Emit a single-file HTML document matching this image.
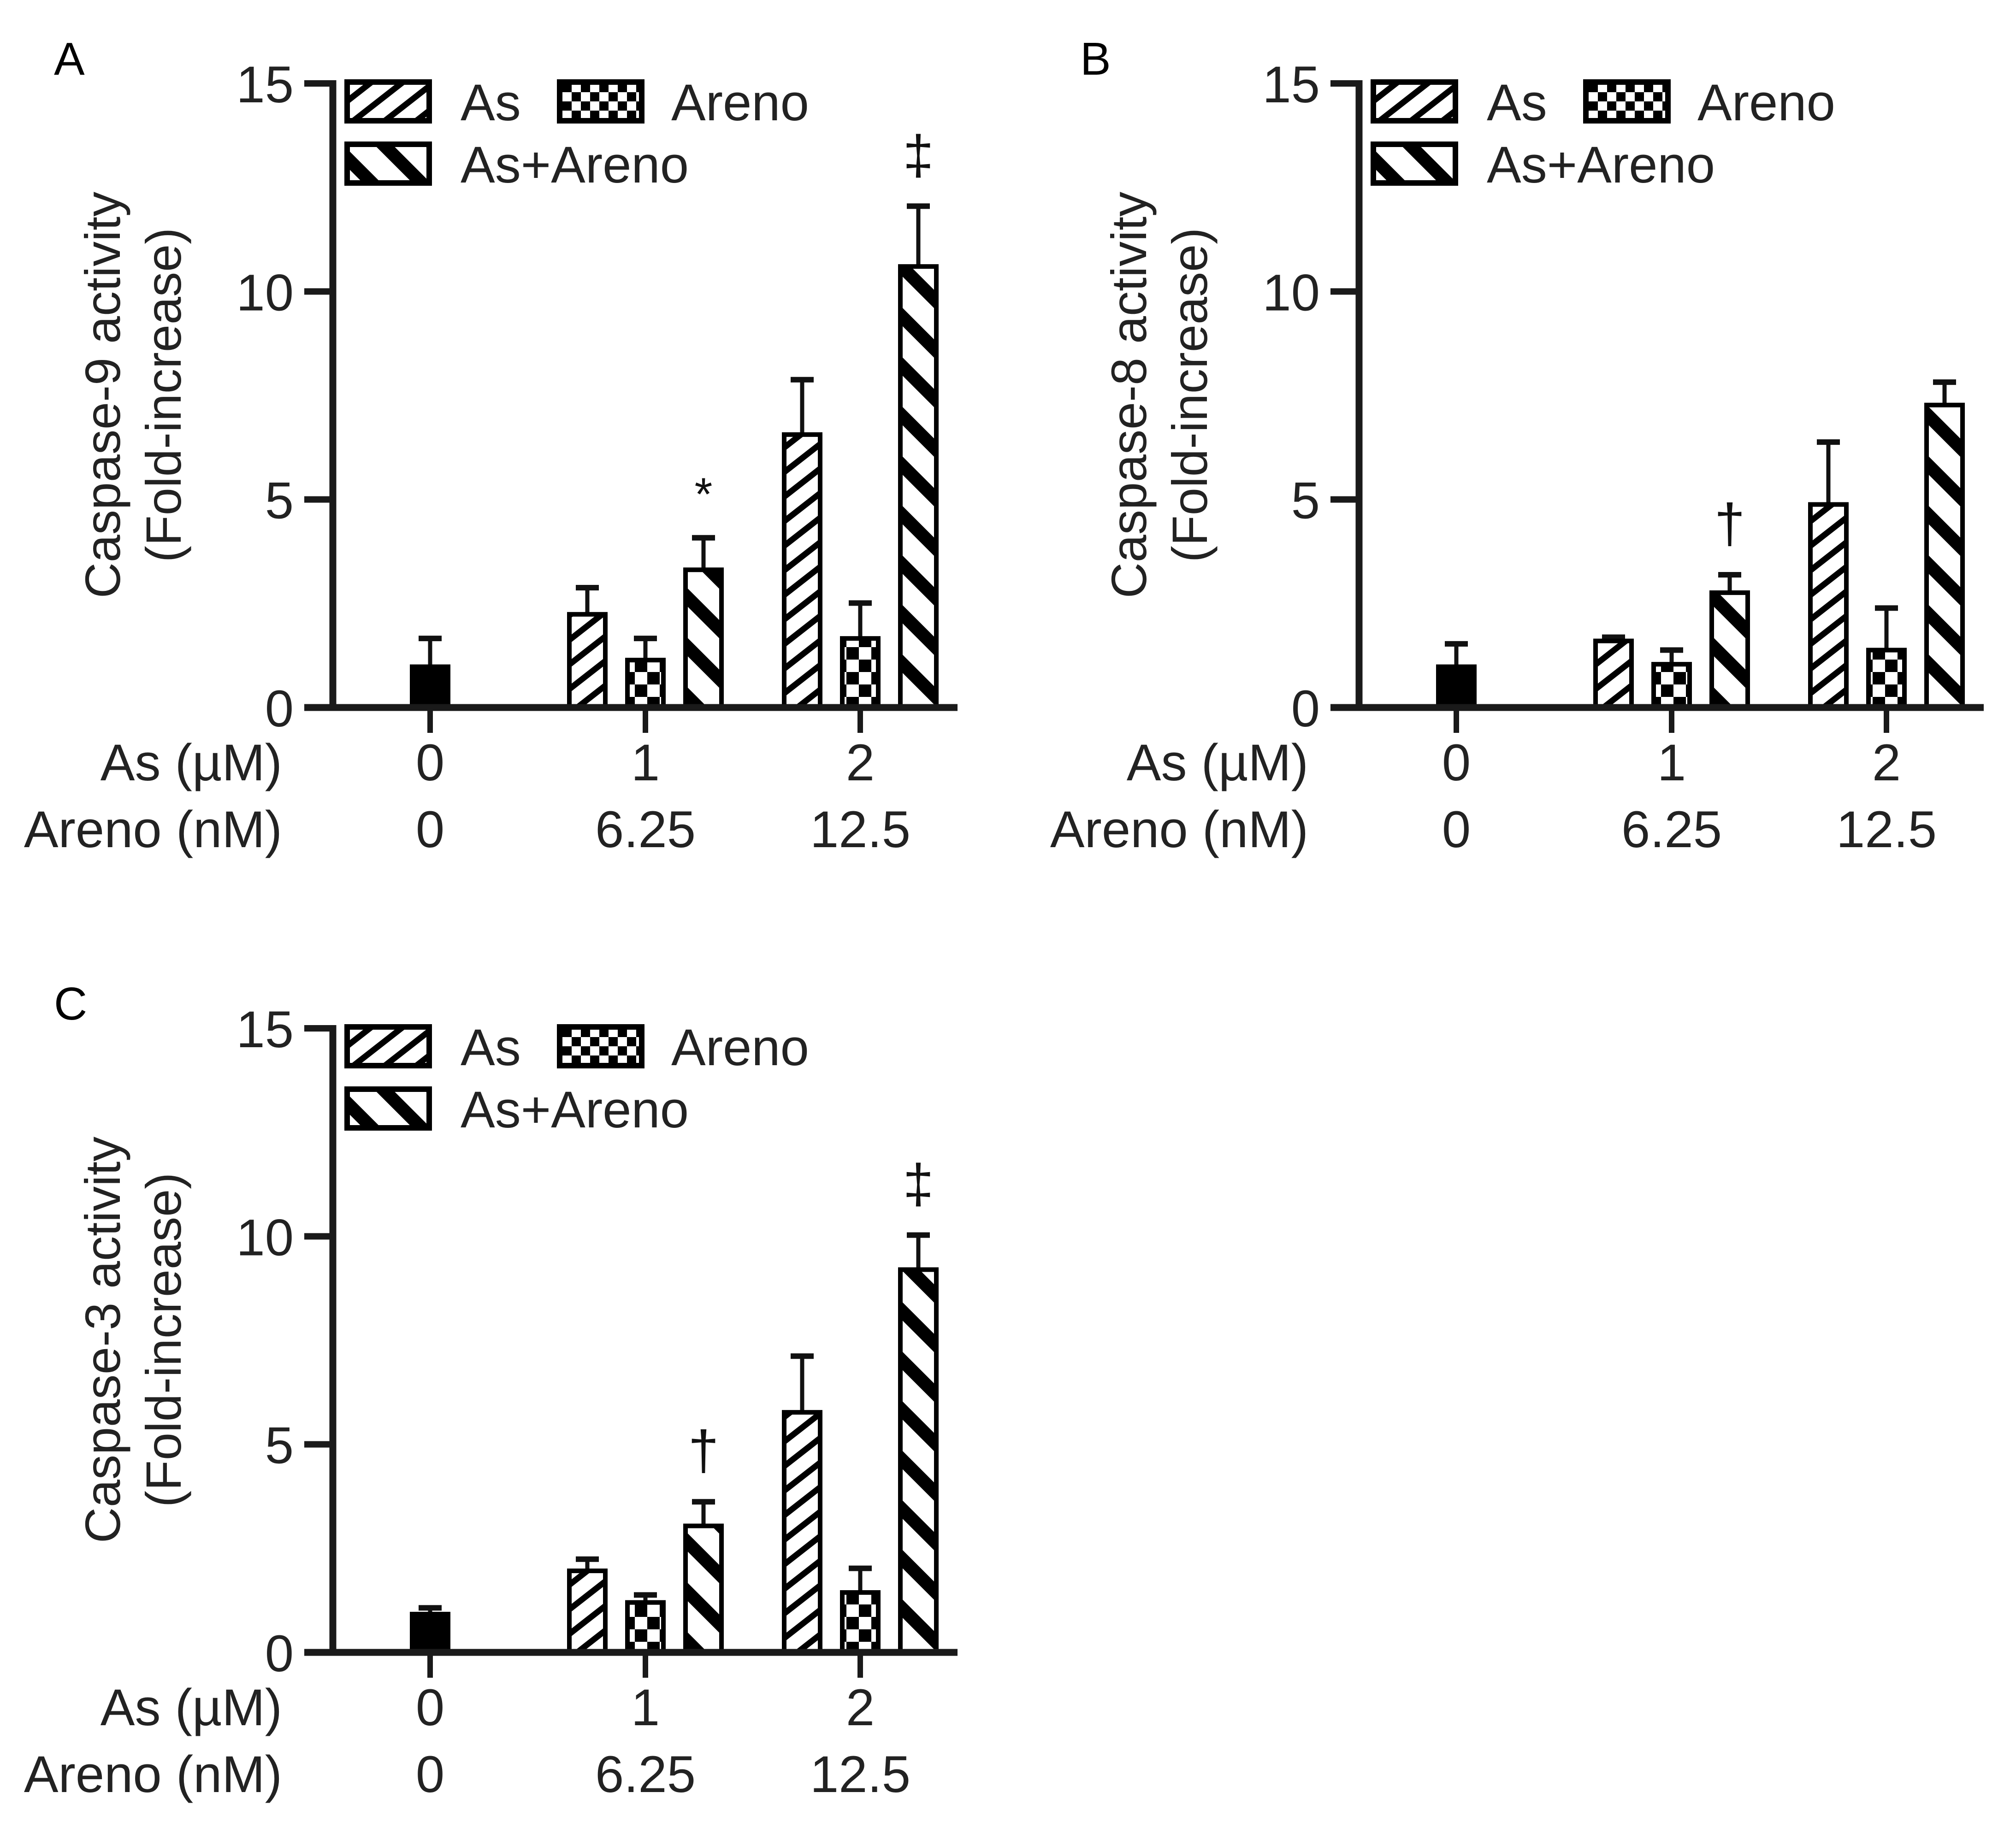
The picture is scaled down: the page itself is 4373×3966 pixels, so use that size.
<!DOCTYPE html>
<html><head><meta charset="utf-8">
<style>
html,body{margin:0;padding:0;background:#fff;}
svg{display:block;font-family:"Liberation Sans",Arial,sans-serif;}
</style></head>
<body>
<svg id="fig" width="4373" height="3966" viewBox="0 0 4373 3966" xmlns="http://www.w3.org/2000/svg">
<defs>
  <pattern id="pAs" patternUnits="userSpaceOnUse" width="42" height="42" patternTransform="rotate(-38)">
    <rect width="42" height="42" fill="#fff"/><rect y="0" width="42" height="13" fill="#000"/>
  </pattern>
  <pattern id="pCombo" patternUnits="userSpaceOnUse" width="76" height="76" patternTransform="rotate(45)">
    <rect width="76" height="76" fill="#fff"/><rect y="0" width="76" height="28" fill="#000"/>
  </pattern>
  <pattern id="pAreno" patternUnits="userSpaceOnUse" width="54" height="54">
    <rect width="54" height="54" fill="#fff"/><rect x="0" y="0" width="27" height="27" fill="#000"/><rect x="27" y="27" width="27" height="27" fill="#000"/>
  </pattern>
  <pattern id="pArenoLeg" patternUnits="userSpaceOnUse" width="40" height="40">
    <rect width="40" height="40" fill="#fff"/><rect x="0" y="0" width="20" height="20" fill="#000"/><rect x="20" y="20" width="20" height="20" fill="#000"/>
  </pattern>
</defs>
</svg>
<script>
// ---- data ----
const asLabels = ['0', '1', '2'];
const arenoLabels = ['0', '6.25', '12.5'];
const yTicks = [0, 5, 10, 15];
const seriesNames = ['Control', 'As', 'Areno', 'As+Areno'];
// bar order: control, As(1), Areno(6.25), As+Areno(1/6.25), As(2), Areno(12.5), As+Areno(2/12.5)
const caspase9Means = [0.98, 2.24, 1.14, 3.31, 6.56, 1.66, 10.6];
const caspase9Errors = [0.68, 0.64, 0.52, 0.77, 1.32, 0.85, 1.45];
const caspase8Means = [0.98, 1.6, 1.04, 2.76, 4.88, 1.38, 7.27];
const caspase8Errors = [0.55, 0.09, 0.34, 0.43, 1.5, 1.01, 0.55];
const caspase3Means = [0.92, 1.96, 1.2, 3.04, 5.77, 1.44, 9.2];
const caspase3Errors = [0.15, 0.28, 0.18, 0.58, 1.35, 0.58, 0.83];
const caspase9Marks = [[3, '*'], [6, '‡']];
const caspase8Marks = [[3, '†']];
const caspase3Marks = [[3, '†'], [6, '‡']];

const NS = 'http://www.w3.org/2000/svg';
const svg = document.getElementById('fig');
function el(tag, attrs, parent) {
  const e = document.createElementNS(NS, tag);
  for (const k in attrs) e.setAttribute(k, attrs[k]);
  (parent || svg).appendChild(e);
  return e;
}
function txt(s, attrs, parent) { const t = el('text', attrs, parent); t.textContent = s; return t; }

const Y0 = 1535, Y15 = 181, AX = 722, AXEND = 2077;
const groupCenters = [933, 1400, 1866];
const BAR_W = 78, STEP = 126;
const fills = ['#000', 'url(#pAs)', 'url(#pAreno)', 'url(#pCombo)'];

function drawPanel(ox, oy, letter, title, means, errs, marks) {
  const g = el('g', {transform: 'translate(' + ox + ',' + oy + ')'});
  
  
  const y = v => Y0 - v * (Y0 - Y15) / 15;
  const barX = i => i === 0 ? groupCenters[0] : groupCenters[Math.floor((i - 1) / 3) + 1] + ((i - 1) % 3 - 1) * STEP;
  const barSeries = i => i === 0 ? 0 : ((i - 1) % 3) + 1;

  const pl = txt(letter, {x: 117, y: 162, 'font-size': 100, fill: '#000'}, g);
  
  

  const yt = el('g', {transform: 'translate(288,857) rotate(-90)'}, g);
  
  
  txt(title, {x: 0, y: -28, 'text-anchor': 'middle', 'font-size': 108, fill: '#222'}, yt);
  txt('(Fold-increase)', {x: 0, y: 104, 'text-anchor': 'middle', 'font-size': 108, fill: '#222'}, yt);

  means.forEach((m, i) => {
    const cx = barX(i), top = y(m), s = barSeries(i);
    const eTop = y(m + errs[i]);
    const eb = el('line', {x1: cx, x2: cx, y1: top, y2: eTop, stroke: '#111', 'stroke-width': 9}, g);
    
    
    el('line', {x1: cx - 25, x2: cx + 25, y1: eTop, y2: eTop, stroke: '#111', 'stroke-width': 12}, g);
    const r = el('rect', {x: cx - BAR_W / 2, y: top, width: BAR_W, height: Y0 - top, fill: fills[s], stroke: '#000', 'stroke-width': 10}, g);
    
    
  });
  marks.forEach(mk => {
    const i = mk[0], cx = barX(i), top = y(means[i] + errs[i]);
    const isStar = mk[1] === '*';
    const a = txt(mk[1], {x: cx, y: top - (isStar ? 60 : 70), 'text-anchor': 'middle', 'font-size': isStar ? 100 : 120, fill: '#111'}, g);
    
    
  });

  const ya = el('line', {x1: AX, x2: AX, y1: Y15 - 7, y2: Y0 + 7, stroke: '#1a1a1a', 'stroke-width': 15}, g);
  
  
  yTicks.forEach(t => {
    el('line', {x1: 660, x2: AX, y1: y(t), y2: y(t), stroke: '#1a1a1a', 'stroke-width': 14}, g);
    const tl = txt(String(t), {x: 637, y: y(t) + 41, 'text-anchor': 'end', 'font-size': 112, fill: '#222'}, g);
    
    
  });
  const xa = el('line', {x1: 660, x2: AXEND, y1: Y0, y2: Y0, stroke: '#1a1a1a', 'stroke-width': 15}, g);
  
  
  groupCenters.forEach((cx, k) => {
    el('line', {x1: cx, x2: cx, y1: Y0, y2: 1590, stroke: '#1a1a1a', 'stroke-width': 12}, g);
    const l1 = txt(asLabels[k], {x: cx, y: 1693, 'text-anchor': 'middle', 'font-size': 112, fill: '#222'}, g);
    
    
    const l2 = txt(arenoLabels[k], {x: cx, y: 1838, 'text-anchor': 'middle', 'font-size': 112, fill: '#222'}, g);
    
    
  });
  const r1 = txt('As (µM)', {x: 612, y: 1693, 'text-anchor': 'end', 'font-size': 112, fill: '#222'}, g);
  
  
  const r2 = txt('Areno (nM)', {x: 612, y: 1838, 'text-anchor': 'end', 'font-size': 112, fill: '#222'}, g);
  
  

  const lg = el('g', {}, g);
  
  
  const entries = [[753, 178, 'url(#pAs)', 'As', 999], [1214, 178, 'url(#pArenoLeg)', 'Areno', 1456], [753, 313, 'url(#pCombo)', 'As+Areno', 999]];
  entries.forEach(en => {
    const eg = el('g', {}, lg);
    
    
    el('rect', {x: en[0], y: en[1], width: 178, height: 84, fill: en[2], stroke: '#000', 'stroke-width': 12}, eg);
    txt(en[3], {x: en[4], y: en[1] + 83, 'font-size': 112, fill: '#222'}, eg);
  });
}

drawPanel(0, 0, 'A', 'Caspase-9 activity', caspase9Means, caspase9Errors, caspase9Marks);
drawPanel(2226, 0, 'B', 'Caspase-8 activity', caspase8Means, caspase8Errors, caspase8Marks);
drawPanel(0, 2050, 'C', 'Caspase-3 activity', caspase3Means, caspase3Errors, caspase3Marks);
</script>
</body></html>
